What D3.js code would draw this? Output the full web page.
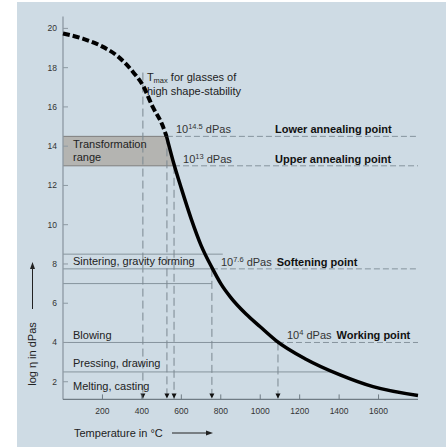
<!DOCTYPE html>
<html>
<head>
<meta charset="utf-8">
<script src="https://cdn.jsdelivr.net/npm/d3@7"></script>
<style>
  body { margin: 0; background: #fff; }
  svg { display: block; font-family: "Liberation Sans", Arial, Helvetica, sans-serif; }
</style>
</head>
<body>
<div id="container"></div>
<script>
/* CONSTANTS AND GLOBALS */
const width = 446,
  height = 447;

// viscosity curve: temperature in °C, log η in dPas
const curveUpper = [[0, 19.74], [100, 19.48], [190, 19.12], [275, 18.6], [355, 17.78],
  [405, 17.1], [455, 16.0], [505, 15.05], [525, 14.5]];
const curveLower = [[525, 14.5], [565, 13.0], [600, 11.85], [650, 10.3], [700, 8.95],
  [756, 7.8], [800, 7.0], [850, 6.3], [928, 5.45], [1000, 4.8], [1080, 4.1],
  [1232, 3.15], [1405, 2.35], [1572, 1.75], [1800, 1.3]];

const xTicks = [200, 400, 600, 800, 1000, 1200, 1400, 1600];
const yTicks = [2, 4, 6, 8, 10, 12, 14, 16, 18, 20];

// fixed viscosity points (temperature where the curve crosses the level)
const pointTemps = [527, 563, 755, 1090];
const pointLevels = [14.5, 13, 7.75, 4];
const pointExps = ["14.5", "13", "7.6", "4"];
const pointNames = ["Lower annealing point", "Upper annealing point", "Softening point", "Working point"];

// horizontal process lines: level, solid part ends at temperature
const procLevels = [8.5, 7.0, 2.5];
const procEnds = [810, 755, 1360];

// process labels: text and log η of the baseline
const procLabels = ["Transformation", "range", "Sintering, gravity forming", "Blowing", "Pressing, drawing", "Melting, casting"];
const procLabelLevels = [13.9, 13.25, 7.95, 4.18, 2.75, 1.6];

// T max for glasses of high shape-stability
const tMax = 405, tMaxTop = 17.75;

const bg = "#cedbe4", lineCol = "#86949d", textCol = "#222";

/* SCALES */
const xScale = d3.scaleLinear().domain([0, 1800]).range([63, 418]);
const yScale = d3.scaleLinear().domain([0, 20]).range([421, 28.4]);
const yBottom = 1.1, yTop = 20.6;

const svg = d3.select("#container").append("svg")
  .attr("width", width)
  .attr("height", height);

svg.append("rect")
  .attr("x", 17).attr("y", 2)
  .attr("width", width - 17).attr("height", height - 2)
  .attr("fill", bg);

// + TRANSFORMATION RANGE BOX
const area = [[0, 14.5], [pointTemps[0], 14.5], [pointTemps[1], 13], [0, 13]];
svg.append("path")
  .attr("d", d3.line().x(d => xScale(d[0])).y(d => yScale(d[1]))(area) + "Z")
  .attr("fill", "#b4b4b1");

// + HORIZONTAL LINES
const hline = (t0, t1, v, dashed, col) => svg.append("line")
  .attr("x1", xScale(t0)).attr("x2", xScale(t1))
  .attr("y1", yScale(v)).attr("y2", yScale(v))
  .attr("stroke", col || lineCol)
  .attr("stroke-width", 1)
  .attr("stroke-dasharray", dashed ? "6,3" : null);

pointLevels.forEach((v, i) => {
  hline(0, pointTemps[i], v, false, i < 2 ? "#7f7f7f" : lineCol);
  hline(pointTemps[i], 1800, v, true);
});
procLevels.forEach((v, i) => hline(0, procEnds[i], v, false));

// + VERTICAL DASHED LINES WITH MARKERS
const vTemps = [tMax, ...pointTemps];
const vTops = [tMaxTop, ...pointLevels];
svg.selectAll(".vline")
  .data(vTemps)
  .join("line")
  .attr("class", "vline")
  .attr("x1", d => xScale(d)).attr("x2", d => xScale(d))
  .attr("y1", (d, i) => yScale(vTops[i]))
  .attr("y2", yScale(yBottom))
  .attr("stroke", "#7b8891")
  .attr("stroke-width", 1)
  .attr("stroke-dasharray", "8,4");

svg.selectAll(".marker")
  .data(vTemps)
  .join("path")
  .attr("class", "marker")
  .attr("transform", d => `translate(${xScale(d)},${yScale(yBottom) - 1})`)
  .attr("d", "M-2.5,-5L2.5,-5L0,0Z")
  .attr("fill", "#111");

// + AXES
svg.append("line")
  .attr("x1", xScale(0)).attr("x2", xScale(0))
  .attr("y1", yScale(yTop)).attr("y2", yScale(yBottom))
  .attr("stroke", "#8d99a2").attr("stroke-width", 1.3);
svg.append("line")
  .attr("x1", xScale(0)).attr("x2", xScale(1800))
  .attr("y1", yScale(yBottom)).attr("y2", yScale(yBottom))
  .attr("stroke", "#6f7b84").attr("stroke-width", 1.3);

svg.selectAll(".ytick")
  .data(yTicks)
  .join("line")
  .attr("class", "ytick")
  .attr("x1", xScale(0)).attr("x2", xScale(0) + 5)
  .attr("y1", d => yScale(d)).attr("y2", d => yScale(d))
  .attr("stroke", "#8d99a2");
svg.selectAll(".ylab")
  .data(yTicks)
  .join("text")
  .attr("class", "ylab")
  .attr("x", xScale(0) - 6)
  .attr("y", d => yScale(d) + 3)
  .attr("text-anchor", "end")
  .attr("font-size", 8.5)
  .attr("fill", "#333")
  .text(d => d);

svg.selectAll(".xtick")
  .data(xTicks)
  .join("line")
  .attr("class", "xtick")
  .attr("x1", d => xScale(d)).attr("x2", d => xScale(d))
  .attr("y1", yScale(yBottom)).attr("y2", yScale(yBottom) - 5)
  .attr("stroke", "#6f7b84");
svg.selectAll(".xlab")
  .data(xTicks)
  .join("text")
  .attr("class", "xlab")
  .attr("x", d => xScale(d))
  .attr("y", yScale(yBottom) + 15)
  .attr("text-anchor", "middle")
  .attr("font-size", 8.5)
  .attr("fill", "#333")
  .text(d => d);

// axis titles with arrows
svg.append("text")
  .attr("x", 74).attr("y", 437)
  .attr("font-size", 11)
  .attr("fill", textCol)
  .text("Temperature in °C");
svg.append("line")
  .attr("x1", 172).attr("x2", 209).attr("y1", 433).attr("y2", 433)
  .attr("stroke", "#222").attr("stroke-width", 1);
svg.append("path").attr("d", "M213,433L206,430.5L206,435.5Z").attr("fill", "#222");

svg.append("text")
  .attr("transform", "translate(36,354) rotate(-90)")
  .attr("text-anchor", "middle")
  .attr("font-size", 11)
  .attr("fill", textCol)
  .text("log η in dPas");
svg.append("line")
  .attr("x1", 32.5).attr("x2", 32.5).attr("y1", 309).attr("y2", 268)
  .attr("stroke", "#222").attr("stroke-width", 1);
svg.append("path").attr("d", "M32.5,262L30,269L35,269Z").attr("fill", "#222");

// + CURVE
const lineGen = d3.line()
  .x(d => xScale(d[0]))
  .y(d => yScale(d[1]))
  .curve(d3.curveMonotoneX);

svg.append("path")
  .attr("d", lineGen(curveUpper))
  .attr("fill", "none")
  .attr("stroke", "#000")
  .attr("stroke-width", 4)
  .attr("stroke-dasharray", "7,3");
svg.append("path")
  .attr("d", lineGen(curveLower))
  .attr("fill", "none")
  .attr("stroke", "#000")
  .attr("stroke-width", 3.5);

// + LABELS
svg.selectAll(".plab")
  .data(procLabels)
  .join("text")
  .attr("class", "plab")
  .attr("x", xScale(0) + 10)
  .attr("y", (d, i) => yScale(procLabelLevels[i]))
  .attr("font-size", 11)
  .attr("fill", textCol)
  .text(d => d);

const tm = svg.append("text")
  .attr("x", xScale(tMax) + 4).attr("y", 81)
  .attr("font-size", 11)
  .attr("fill", textCol);
tm.append("tspan").text("T");
tm.append("tspan").attr("font-size", 7.5).attr("dy", 2).text("max");
tm.append("tspan").attr("dy", -2).text(" for glasses of");
svg.append("text")
  .attr("x", xScale(tMax) + 4).attr("y", 95)
  .attr("font-size", 11)
  .attr("fill", textCol)
  .text("high shape-stability");

pointTemps.forEach((t, i) => {
  const yb = yScale(pointLevels[i]) - 3;
  const vt = svg.append("text")
    .attr("x", xScale(t) + 9).attr("y", yb)
    .attr("font-size", 11)
    .attr("fill", "#333");
  vt.append("tspan").text("10");
  vt.append("tspan").attr("font-size", 7.5).attr("dy", -4).text(pointExps[i]);
  vt.append("tspan").attr("dy", 4).text(" dPas");
  const xEnd = xScale(t) + 9 + vt.node().getComputedTextLength();
  svg.append("text")
    .attr("x", i < 2 ? 275 : xEnd + 5).attr("y", yb)
    .attr("font-size", 11)
    .attr("font-weight", "bold")
    .attr("fill", "#111")
    .text(pointNames[i]);
});
</script>
</body>
</html>
